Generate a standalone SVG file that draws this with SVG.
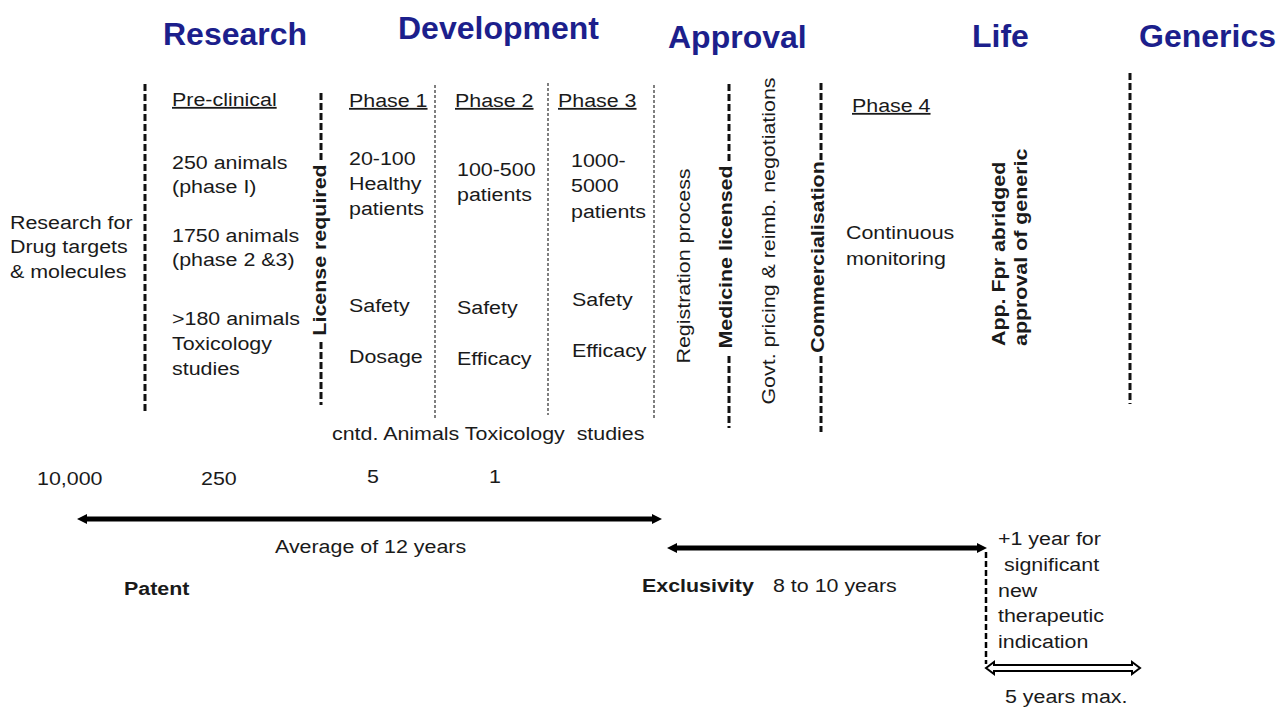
<svg xmlns="http://www.w3.org/2000/svg" width="1278" height="707" viewBox="0 0 1278 707">
<style>
.h{font-family:"Liberation Sans",Arial,sans-serif;font-size:32px;font-weight:bold;fill:#1c1f8c}
.t{font-family:"Liberation Sans",Arial,sans-serif;font-size:18px;fill:#1a1a1a}
.b{font-weight:bold}
.u{text-decoration:underline}
.thick{stroke:#111;stroke-width:3;stroke-dasharray:7 3;fill:none}
.thin{stroke:#555;stroke-width:1.5;stroke-dasharray:3 2;fill:none}
.arr{stroke:#000;stroke-width:5;fill:none;marker-start:url(#ah);marker-end:url(#ah)}
</style>
<defs>
<marker id="ah" markerUnits="userSpaceOnUse" markerWidth="12" markerHeight="12" viewBox="0 -6 10 12" refX="4" refY="0" orient="auto-start-reverse">
<path d="M0,-5 L10,0 L0,5 z" fill="#000"/>
</marker>
</defs>
<rect width="1278" height="707" fill="#fff"/>

<g id="headers">
<text class="h" x="163" y="45">Research</text>
<text class="h" x="398" y="39">Development</text>
<text class="h" x="668" y="48">Approval</text>
<text class="h" x="972" y="47">Life</text>
<text class="h" x="1139" y="47">Generics</text>
</g>

<g id="connectors">
<line class="thick" x1="145" y1="84" x2="145" y2="414"/>
<line class="thick" x1="321" y1="93" x2="321" y2="160"/>
<line class="thick" x1="321" y1="342" x2="321" y2="405"/>
<line class="thin" x1="435" y1="85" x2="435" y2="418"/>
<line class="thin" x1="548" y1="83" x2="548" y2="415"/>
<line class="thin" x1="654" y1="85" x2="654" y2="418"/>
<line class="thick" x1="729" y1="84" x2="729" y2="162"/>
<line class="thick" x1="729" y1="356" x2="729" y2="428"/>
<line class="thick" x1="821" y1="83" x2="821" y2="162"/>
<line class="thick" x1="821" y1="356" x2="821" y2="432"/>
<line class="thick" x1="1130" y1="73" x2="1130" y2="404"/>
<path class="arr" d="M83,519 H656"/>
<path class="arr" d="M673,548 H981"/>
<line x1="986" y1="552" x2="986" y2="664" stroke="#000" stroke-width="2.5" stroke-dasharray="6 3"/>
<path d="M986,668 L994,662 L994,665 L1132,665 L1132,662 L1140,668 L1132,674 L1132,671 L994,671 L994,674 Z" fill="#fff" stroke="#000" stroke-width="2"/>
</g>

<g id="research">
<text class="t" transform="translate(10,229) scale(1.19,1)"><tspan x="0" y="0">Research for</tspan><tspan x="0" y="24.5">Drug targets</tspan><tspan x="0" y="49">&amp; molecules</tspan></text>
</g>

<g id="preclinical">
<text class="t u" transform="translate(172,106) scale(1.19,1)">Pre-clinical</text>
<text class="t" transform="translate(172,169) scale(1.19,1)"><tspan x="0" y="0">250 animals</tspan><tspan x="0" y="24.5">(phase I)</tspan></text>
<text class="t" transform="translate(172,242) scale(1.19,1)"><tspan x="0" y="0">1750 animals</tspan><tspan x="0" y="24.5">(phase 2 &amp;3)</tspan></text>
<text class="t" transform="translate(172,325) scale(1.19,1)"><tspan x="0" y="0">&gt;180 animals</tspan><tspan x="0" y="25">Toxicology</tspan><tspan x="0" y="50">studies</tspan></text>
</g>

<g id="license">
<text class="t b" text-anchor="middle" transform="translate(326,250) rotate(-90) scale(1.19,1)">License required</text>
</g>

<g id="phase1">
<text class="t u" transform="translate(349,107) scale(1.19,1)">Phase 1</text>
<text class="t" transform="translate(349,165) scale(1.19,1)"><tspan x="0" y="0">20-100</tspan><tspan x="0" y="25">Healthy</tspan><tspan x="0" y="50">patients</tspan></text>
<text class="t" transform="translate(349,312) scale(1.19,1)">Safety</text>
<text class="t" transform="translate(349,363) scale(1.19,1)">Dosage</text>
</g>

<g id="phase2">
<text class="t u" transform="translate(455,107) scale(1.19,1)">Phase 2</text>
<text class="t" transform="translate(457,176) scale(1.19,1)"><tspan x="0" y="0">100-500</tspan><tspan x="0" y="25">patients</tspan></text>
<text class="t" transform="translate(457,314) scale(1.19,1)">Safety</text>
<text class="t" transform="translate(457,365) scale(1.19,1)">Efficacy</text>
</g>

<g id="phase3">
<text class="t u" transform="translate(558,107) scale(1.19,1)">Phase 3</text>
<text class="t" transform="translate(571,167) scale(1.19,1)"><tspan x="0" y="0">1000-</tspan><tspan x="0" y="25">5000</tspan><tspan x="0" y="51">patients</tspan></text>
<text class="t" transform="translate(572,306) scale(1.19,1)">Safety</text>
<text class="t" transform="translate(572,357) scale(1.19,1)">Efficacy</text>
</g>

<g id="cntd">
<text class="t" transform="translate(332,440) scale(1.19,1)" xml:space="preserve">cntd. Animals Toxicology  studies</text>
</g>

<g id="approval">
<text class="t" text-anchor="middle" transform="translate(690,266) rotate(-90) scale(1.19,1)">Registration process</text>
<text class="t b" text-anchor="middle" transform="translate(732,257) rotate(-90) scale(1.19,1)">Medicine licensed</text>
<text class="t" text-anchor="middle" transform="translate(775,241) rotate(-90) scale(1.19,1)">Govt. pricing &amp; reimb. negotiations</text>
<text class="t b" text-anchor="middle" transform="translate(824,257) rotate(-90) scale(1.19,1)">Commercialisation</text>
</g>

<g id="phase4">
<text class="t u" transform="translate(852,112) scale(1.19,1)">Phase 4</text>
<text class="t" transform="translate(846,239) scale(1.19,1)"><tspan x="0" y="0">Continuous</tspan><tspan x="0" y="26">monitoring</tspan></text>
</g>

<g id="generic">
<text class="t b" transform="translate(1005,346) rotate(-90) scale(1.19,1)"><tspan x="0" y="0">App. Fpr abridged</tspan><tspan x="0" y="22">approval of generic</tspan></text>
</g>

<g id="counts">
<text class="t" transform="translate(37,485) scale(1.19,1)">10,000</text>
<text class="t" transform="translate(201,485) scale(1.19,1)">250</text>
<text class="t" transform="translate(367,483) scale(1.19,1)">5</text>
<text class="t" transform="translate(489,483) scale(1.19,1)">1</text>
</g>

<g id="timeline">
<text class="t" transform="translate(275,553) scale(1.19,1)">Average of 12 years</text>
<text class="t b" transform="translate(124,595) scale(1.19,1)">Patent</text>
<text class="t b" transform="translate(642,592) scale(1.19,1)">Exclusivity</text>
<text class="t" transform="translate(773,592) scale(1.19,1)">8 to 10 years</text>
<text class="t" transform="translate(998,545) scale(1.19,1)"><tspan x="0" y="0">+1 year for</tspan><tspan x="5" y="25.8">significant</tspan><tspan x="0" y="51.6">new</tspan><tspan x="0" y="77.4">therapeutic</tspan><tspan x="0" y="103.2">indication</tspan></text>
<text class="t" transform="translate(1005,703) scale(1.19,1)">5 years max.</text>
</g>
</svg>
